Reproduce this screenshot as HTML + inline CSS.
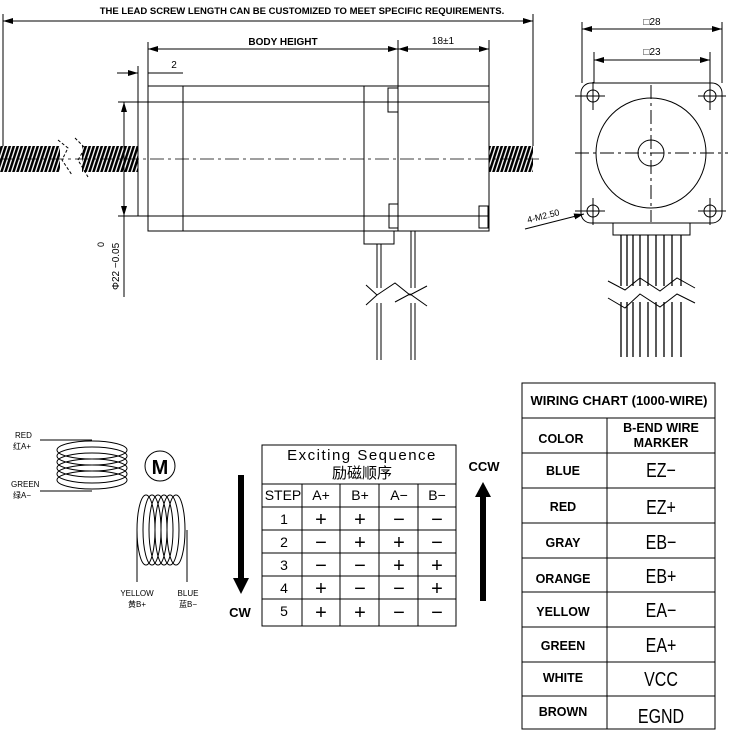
<!DOCTYPE html>
<html><head><meta charset="utf-8"><style>
html,body{margin:0;padding:0;background:#fff;}
svg{display:block;}
text{font-family:"Liberation Sans","Noto Sans CJK SC",sans-serif;fill:#000;}
.b{font-weight:bold;}
</style></head><body>
<svg width="729" height="735" viewBox="0 0 729 735" xmlns="http://www.w3.org/2000/svg">
<defs>
<pattern id="thr" width="4" height="26" patternUnits="userSpaceOnUse" patternTransform="skewX(-18)">
<rect width="4" height="26" fill="#fff"/><rect width="2.6" height="26" fill="#000"/></pattern>
<marker id="ar" viewBox="0 0 10 6" refX="10" refY="3" markerWidth="10" markerHeight="6" orient="auto-start-reverse"><path d="M0,0 L10,3 L0,6 z" fill="#000"/></marker>
</defs>
<g stroke="#000" fill="none" stroke-width="1">
<text x="302" y="14" font-size="9.5" class="b" stroke="none" text-anchor="middle">THE LEAD SCREW LENGTH CAN BE CUSTOMIZED TO MEET SPECIFIC REQUIREMENTS.</text>
<line x1="3" y1="21" x2="533" y2="21" marker-start="url(#ar)" marker-end="url(#ar)"/>
<line x1="3" y1="14" x2="3" y2="146"/><line x1="533" y1="14" x2="533" y2="146"/>
<rect x="0" y="146" width="138" height="26" fill="url(#thr)" stroke="none"/>
<rect x="489" y="146" width="44" height="26" fill="url(#thr)" stroke="none"/>
<rect x="60" y="140" width="22" height="40" fill="#fff" stroke="none"/>
<path d="M58,140 L68,148 L62,160 L72,175 M75,138 L85,148 L78,160 L88,177" stroke-dasharray="3,2"/>
<line x1="0" y1="159" x2="540" y2="159" stroke-dasharray="14,4,3,4" stroke-width="0.8"/>
<rect x="148" y="86" width="341" height="145"/>
<line x1="183" y1="86" x2="183" y2="231"/>
<line x1="364" y1="86" x2="364" y2="244"/>
<line x1="398" y1="86" x2="398" y2="231"/>
<line x1="118" y1="102" x2="489" y2="102"/>
<line x1="118" y1="216" x2="489" y2="216"/>
<line x1="138" y1="66" x2="138" y2="216"/>
<rect x="388" y="88" width="10" height="24"/><rect x="389" y="204" width="9" height="24"/>
<rect x="479" y="206" width="9" height="22"/>
<line x1="124" y1="102" x2="124" y2="216" marker-start="url(#ar)" marker-end="url(#ar)"/>
<line x1="124" y1="216" x2="124" y2="297"/>
<text transform="translate(119,290) rotate(-90)" font-size="10" stroke="none">Φ22 −0.05</text>
<text transform="translate(104,247) rotate(-90)" font-size="9" stroke="none">0</text>
<line x1="148" y1="42" x2="148" y2="86"/><line x1="398" y1="40" x2="398" y2="86"/><line x1="489" y1="40" x2="489" y2="86"/>
<line x1="148" y1="49" x2="398" y2="49" marker-start="url(#ar)" marker-end="url(#ar)"/>
<line x1="398" y1="49" x2="489" y2="49" marker-start="url(#ar)" marker-end="url(#ar)"/>
<text x="283" y="45" font-size="10" class="b" stroke="none" text-anchor="middle">BODY HEIGHT</text>
<text x="443" y="44" font-size="10" stroke="none" text-anchor="middle">18±1</text>
<line x1="117" y1="73" x2="138" y2="73" marker-end="url(#ar)"/><line x1="148" y1="73" x2="183" y2="73"/>
<text x="174" y="68" font-size="10" stroke="none" text-anchor="middle">2</text>
<rect x="364" y="231" width="30" height="13"/>
<path d="M377,244 V360 M381,244 V360 M411,231 V360 M415,231 V360"/>
<rect x="365" y="288" width="60" height="15" fill="#fff" stroke="none"/>
<path d="M366,285 L377,295 L395,283 L410,295 L427,286 M366,305 L377,295 M395,302 L410,294 L427,306"/>
<line x1="582" y1="22" x2="582" y2="83"/><line x1="722" y1="22" x2="722" y2="83"/>
<line x1="582" y1="29" x2="722" y2="29" marker-start="url(#ar)" marker-end="url(#ar)"/>
<text x="652" y="25" font-size="10" stroke="none" text-anchor="middle">□28</text>
<line x1="594" y1="52" x2="594" y2="83"/><line x1="710" y1="52" x2="710" y2="83"/>
<line x1="594" y1="60" x2="710" y2="60" marker-start="url(#ar)" marker-end="url(#ar)"/>
<text x="652" y="55" font-size="10" stroke="none" text-anchor="middle">□23</text>
<rect x="581" y="83" width="141" height="140" rx="10"/>
<circle cx="651" cy="153" r="55"/>
<circle cx="651" cy="153" r="13"/>
<path d="M575,153 H728 M651,85 V222" stroke-dasharray="14,4,3,4"/>
<circle cx="593" cy="96" r="6"/><circle cx="710" cy="96" r="6"/><circle cx="593" cy="211" r="6"/><circle cx="710" cy="211" r="6"/>
<path d="M575,96 H605 M593,82 V110 M698,96 H726 M710,82 V110 M575,211 H605 M593,198 V225 M698,211 H726 M710,198 V225"/>
<line x1="525" y1="229" x2="584" y2="214" marker-end="url(#ar)"/>
<text transform="translate(528,223) rotate(-14)" font-size="9" stroke="none">4-M2.50</text>
<rect x="613" y="223" width="77" height="12"/>
<g stroke-width="1.3">
<path d="M621,235V357M627,235V357M633,235V357M640,235V357M648,235V357M656,235V357M664,235V357M672,235V357M681,235V357"/>
</g>
<rect x="606" y="286" width="100" height="16" fill="#fff" stroke="none"/>
<path d="M608,281 L625,290 L640,278 L660,291 L677,278 L695,288 M608,298 L625,308 L640,294 L660,307 L677,294 L695,303"/>
<text x="15" y="438" font-size="8" stroke="none">RED</text>
<text x="13" y="449" font-size="8" stroke="none">红A+</text>
<text x="11" y="487" font-size="8" stroke="none">GREEN</text>
<text x="13" y="498" font-size="8" stroke="none">绿A−</text>
<path d="M40,440 H92 M40,491 H92"/>
<ellipse cx="92" cy="450" rx="35" ry="9"/><ellipse cx="92" cy="456" rx="35" ry="9"/><ellipse cx="92" cy="462" rx="35" ry="9"/><ellipse cx="92" cy="468" rx="35" ry="9"/><ellipse cx="92" cy="474" rx="35" ry="9"/><ellipse cx="92" cy="480" rx="35" ry="9"/>
<circle cx="160" cy="466" r="15"/>
<text x="160" y="474" font-size="20" class="b" stroke="none" text-anchor="middle">M</text>
<ellipse cx="146" cy="530" rx="9" ry="35"/><ellipse cx="152" cy="530" rx="9" ry="35"/><ellipse cx="158" cy="530" rx="9" ry="35"/><ellipse cx="164" cy="530" rx="9" ry="35"/><ellipse cx="170" cy="530" rx="9" ry="35"/><ellipse cx="176" cy="530" rx="9" ry="35"/>
<path d="M137,530 V582 M187,530 V582"/>
<text x="137" y="596" font-size="8" stroke="none" text-anchor="middle">YELLOW</text>
<text x="137" y="607" font-size="8" stroke="none" text-anchor="middle">黄B+</text>
<text x="188" y="596" font-size="8" stroke="none" text-anchor="middle">BLUE</text>
<text x="188" y="607" font-size="8" stroke="none" text-anchor="middle">蓝B−</text>
<rect x="238" y="475" width="6" height="105" fill="#000" stroke="none"/>
<path d="M233,578 L249,578 L241,594 z" fill="#000" stroke="none"/>
<text x="240" y="617" font-size="13" class="b" stroke="none" text-anchor="middle">CW</text>
<rect x="480" y="496" width="6" height="105" fill="#000" stroke="none"/>
<path d="M475,497 L491,497 L483,482 z" fill="#000" stroke="none"/>
<text x="484" y="471" font-size="13" class="b" stroke="none" text-anchor="middle">CCW</text>
<rect x="262" y="445" width="194" height="181"/>
<path d="M262,484 H456 M262,507 H456 M262,530 H456 M262,553 H456 M262,576 H456 M262,599 H456"/>
<path d="M302,484 V626 M340,484 V626 M379,484 V626 M418,484 V626"/>
</g>
<g font-size="15" text-anchor="middle">
<text x="362" y="460" style="letter-spacing:1.5px">Exciting Sequence</text>
<text x="362" y="478">励磁顺序</text>
<g font-size="14">
<text x="283" y="500">STEP</text><text x="321" y="500">A+</text><text x="360" y="500">B+</text><text x="399" y="500">A−</text><text x="437" y="500">B−</text>
<text x="284" y="524">1</text><text x="284" y="547">2</text><text x="284" y="570">3</text><text x="284" y="593">4</text><text x="284" y="616">5</text>
</g>
<g font-size="20">
<text x="321" y="526">+</text><text x="360" y="526">+</text><text x="399" y="526">−</text><text x="437" y="526">−</text>
<text x="321" y="549">−</text><text x="360" y="549">+</text><text x="399" y="549">+</text><text x="437" y="549">−</text>
<text x="321" y="572">−</text><text x="360" y="572">−</text><text x="399" y="572">+</text><text x="437" y="572">+</text>
<text x="321" y="595">+</text><text x="360" y="595">−</text><text x="399" y="595">−</text><text x="437" y="595">+</text>
<text x="321" y="619">+</text><text x="360" y="619">+</text><text x="399" y="619">−</text><text x="437" y="619">−</text>
</g></g>
<g stroke="#000" fill="none">
<rect x="522" y="383" width="193" height="346"/>
<path d="M522,418 H715 M522,453 H715 M522,488 H715 M522,523 H715 M522,558 H715 M522,592 H715 M522,627 H715 M522,662 H715 M522,696 H715"/>
<line x1="607" y1="418" x2="607" y2="729"/>
</g>
<g font-size="12.5" class="b" text-anchor="middle">
<text x="619" y="405" font-size="13">WIRING CHART (1000-WIRE)</text>
<text x="561" y="443">COLOR</text>
<text x="661" y="432">B-END WIRE</text><text x="661" y="447">MARKER</text>
<text x="563" y="475">BLUE</text><text x="563" y="511">RED</text><text x="563" y="547">GRAY</text><text x="563" y="583">ORANGE</text><text x="563" y="616">YELLOW</text><text x="563" y="650">GREEN</text><text x="563" y="682">WHITE</text><text x="563" y="716">BROWN</text>
</g>
<g font-size="20" text-anchor="middle" transform="translate(661,0) scale(0.8,1)">
<text x="0" y="477">EZ−</text><text x="0" y="514">EZ+</text><text x="0" y="549">EB−</text><text x="0" y="583">EB+</text><text x="0" y="617">EA−</text><text x="0" y="652">EA+</text><text x="0" y="686">VCC</text><text x="0" y="723">EGND</text>
</g>
</svg>
</body></html>
